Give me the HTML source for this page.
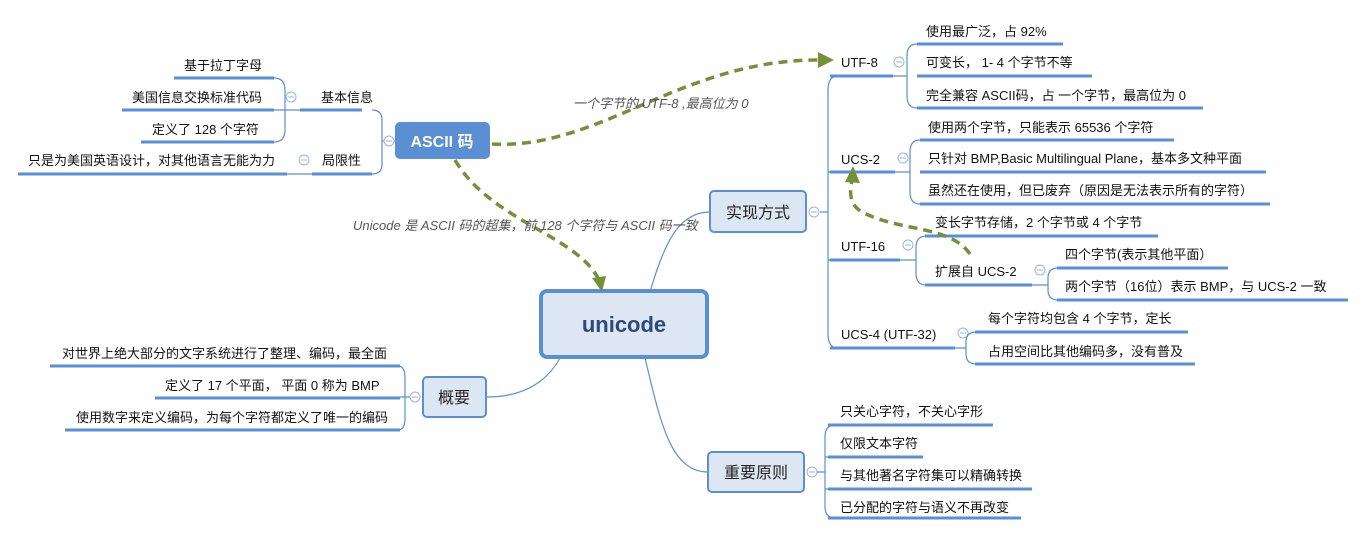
<!DOCTYPE html>
<html><head><meta charset="utf-8"><style>
html,body{margin:0;padding:0;background:#fff;}
svg{display:block;font-family:"Liberation Sans","Noto Sans CJK SC",sans-serif;}
.t{font-size:13px;fill:#111;}
.u{stroke:#5b8fd4;stroke-width:3;fill:none;}
.c{stroke:#5b8fd4;stroke-width:1.2;fill:none;}
.ci{stroke:#9db3dd;stroke-width:1;fill:#fff;}
.d{stroke:#76903a;stroke-width:3.5;fill:none;stroke-dasharray:9,6;}
.lab{font-size:13px;fill:#555;font-style:italic;}
</style></head><body>
<svg width="1362" height="538" viewBox="0 0 1362 538">
<defs>
<g id="cir"><circle r="5" class="ci"/><line x1="-3" y1="0" x2="3" y2="0" stroke="#9db3dd" stroke-width="1"/></g>
</defs>

<!-- connectors from unicode -->
<path class="c" d="M650,292 C665,240 680,212 710,212"/>
<path class="c" d="M560,358 C545,385 520,397 486,397"/>
<path class="c" d="M645,358 C660,420 670,472 708,472"/>

<!-- ASCII left side -->
<path class="c" d="M372,110 Q382,110 382,120 L382,164 Q382,174 372,174"/>
<line class="c" x1="382" y1="141" x2="395" y2="141"/>
<use href="#cir" x="389" y="141"/>
<line class="u" x1="300" y1="110" x2="362" y2="110"/>
<text class="t" x="321" y="102">基本信息</text>
<line class="u" x1="312" y1="174" x2="372" y2="174"/>
<text class="t" x="322" y="165">局限性</text>
<use href="#cir" x="291" y="97"/>
<use href="#cir" x="304" y="160"/>
<path class="c" d="M274,78 Q285,78 285,90 L285,130 Q285,142 274,142"/>
<line class="c" x1="274" y1="110" x2="300" y2="110"/>
<line class="u" x1="174" y1="78" x2="274" y2="78"/>
<text class="t" x="184" y="70">基于拉丁字母</text>
<line class="u" x1="122" y1="110" x2="274" y2="110"/>
<text class="t" x="132" y="102">美国信息交换标准代码</text>
<line class="u" x1="141" y1="142" x2="274" y2="142"/>
<text class="t" x="152" y="134">定义了 128 个字符</text>
<line class="u" x1="18" y1="174" x2="287" y2="174"/>
<line class="c" x1="287" y1="174" x2="312" y2="174"/>
<text class="t" x="28" y="165">只是为美国英语设计，对其他语言无能为力</text>

<!-- ASCII node -->
<rect x="395" y="122" width="95" height="37" rx="5" fill="#5b8fd4"/>
<text x="442" y="147" text-anchor="middle" font-size="16" font-weight="bold" fill="#fff">ASCII 码</text>

<!-- unicode node -->
<rect x="541" y="291" width="166" height="66" rx="6" fill="#dde6f3" stroke="#5b8fd4" stroke-width="4"/>
<text x="624" y="332" text-anchor="middle" font-size="22" font-weight="bold" fill="#2d4a7a">unicode</text>

<!-- 实现方式 -->
<rect x="710" y="191" width="96" height="41" rx="4" fill="#dde6f3" stroke="#5b8fd4" stroke-width="2"/>
<text x="758" y="218" text-anchor="middle" font-size="16" fill="#222">实现方式</text>
<use href="#cir" x="814" y="212"/>
<path class="c" d="M820,212 L828,212 M838,76 Q828,76 828,90 L828,334 Q828,348 838,348 M828,172 L838,172 M828,260 L838,260"/>

<line class="u" x1="830" y1="76" x2="893" y2="76"/>
<text class="t" x="841" y="67">UTF-8</text>
<use href="#cir" x="899" y="62"/>
<path class="c" d="M893,76 L907,76 M917,44 Q907,44 907,56 L907,96 Q907,108 917,108"/>
<line class="u" x1="917" y1="44" x2="1063" y2="44"/>
<text class="t" x="926" y="36">使用最广泛，占 92%</text>
<line class="u" x1="917" y1="76" x2="1092" y2="76"/>
<text class="t" x="926" y="67">可变长， 1- 4 个字节不等</text>
<line class="u" x1="917" y1="108" x2="1203" y2="108"/>
<text class="t" x="926" y="100">完全兼容 ASCII码，占 一个字节，最高位为 0</text>

<line class="u" x1="830" y1="172" x2="895" y2="172"/>
<text class="t" x="841" y="164">UCS-2</text>
<use href="#cir" x="903" y="158"/>
<path class="c" d="M895,172 L910,172 M920,140 Q910,140 910,152 L910,192 Q910,204 920,204"/>
<line class="u" x1="920" y1="140" x2="1174" y2="140"/>
<text class="t" x="928" y="132">使用两个字节，只能表示 65536 个字符</text>
<line class="u" x1="920" y1="172" x2="1266" y2="172"/>
<text class="t" x="928" y="163">只针对 BMP,Basic Multilingual Plane，基本多文种平面</text>
<line class="u" x1="920" y1="204" x2="1270" y2="204"/>
<text class="t" x="928" y="195">虽然还在使用，但已废弃（原因是无法表示所有的字符）</text>

<line class="u" x1="830" y1="260" x2="900" y2="260"/>
<text class="t" x="841" y="251">UTF-16</text>
<use href="#cir" x="908" y="245"/>
<path class="c" d="M900,260 L916,260 M926,236 Q916,236 916,248 L916,273 Q916,285 926,285"/>
<line class="u" x1="925" y1="236" x2="1158" y2="236"/>
<text class="t" x="935" y="227">变长字节存储，2 个字节或 4 个字节</text>
<line class="u" x1="925" y1="285" x2="1032" y2="285"/>
<text class="t" x="935" y="276">扩展自 UCS-2</text>
<use href="#cir" x="1040" y="270"/>
<path class="c" d="M1032,285 L1048,285 M1058,268 Q1048,268 1048,278 L1048,290 Q1048,300 1058,300"/>
<line class="u" x1="1057" y1="268" x2="1228" y2="268"/>
<text class="t" x="1065" y="259">四个字节(表示其他平面）</text>
<line class="u" x1="1057" y1="300" x2="1348" y2="300"/>
<text class="t" x="1065" y="291">两个字节（16位）表示 BMP，与 UCS-2 一致</text>

<line class="u" x1="830" y1="348" x2="955" y2="348"/>
<text class="t" x="841" y="339">UCS-4 (UTF-32)</text>
<use href="#cir" x="963" y="333"/>
<path class="c" d="M955,348 L966,348 M976,332 Q966,332 966,342 L966,354 Q966,364 976,364"/>
<line class="u" x1="975" y1="332" x2="1188" y2="332"/>
<text class="t" x="988" y="323">每个字符均包含 4 个字节，定长</text>
<line class="u" x1="975" y1="364" x2="1195" y2="364"/>
<text class="t" x="988" y="356">占用空间比其他编码多，没有普及</text>

<!-- 概要 -->
<rect x="423" y="377" width="63" height="40" rx="4" fill="#dde6f3" stroke="#5b8fd4" stroke-width="2"/>
<text x="454" y="403" text-anchor="middle" font-size="16" fill="#222">概要</text>
<use href="#cir" x="415" y="397"/>
<path class="c" d="M410,397 L400,397 M398,366 Q405,366 405,378 L405,418 Q405,430 398,430"/>
<line class="u" x1="50" y1="366" x2="400" y2="366"/>
<text class="t" x="62" y="358">对世界上绝大部分的文字系统进行了整理、编码，最全面</text>
<line class="u" x1="155" y1="398" x2="400" y2="398"/>
<text class="t" x="165" y="390">定义了 17 个平面， 平面 0 称为 BMP</text>
<line class="u" x1="65" y1="430" x2="400" y2="430"/>
<text class="t" x="76" y="422">使用数字来定义编码，为每个字符都定义了唯一的编码</text>

<!-- 重要原则 -->
<rect x="708" y="452" width="96" height="40" rx="4" fill="#dde6f3" stroke="#5b8fd4" stroke-width="2"/>
<text x="756" y="478" text-anchor="middle" font-size="16" fill="#222">重要原则</text>
<use href="#cir" x="812" y="472"/>
<path class="c" d="M817,472 L825,472 M835,425 Q825,425 825,437 L825,506 Q825,518 835,518 M825,457 L835,457 M825,489 L835,489"/>
<line class="u" x1="828" y1="425" x2="993" y2="425"/>
<text class="t" x="840" y="416">只关心字符，不关心字形</text>
<line class="u" x1="828" y1="457" x2="923" y2="457"/>
<text class="t" x="840" y="448">仅限文本字符</text>
<line class="u" x1="828" y1="489" x2="1032" y2="489"/>
<text class="t" x="840" y="480">与其他著名字符集可以精确转换</text>
<line class="u" x1="828" y1="518" x2="1021" y2="518"/>
<text class="t" x="840" y="512">已分配的字符与语义不再改变</text>

<!-- dashed arrows -->
<path class="d" d="M492,144 C600,150 680,60 818,60"/>
<polygon points="818,52 834,60 818,68" fill="#76903a"/>
<text class="lab" x="573" y="108">一个字节的 UTF-8 ,最高位为 0</text>

<path class="d" d="M455,160 C490,220 575,235 598,278"/>
<polygon points="592,278 606,276 602,292" fill="#76903a"/>
<text class="lab" x="353" y="230">Unicode 是 ASCII 码的超集，前 128 个字符与 ASCII 码一致</text>

<path class="d" d="M970,254 C950,225 900,232 862,212 C848,204 850,190 852,180"/>
<polygon points="845,182 853,166 860,183" fill="#76903a"/>
</svg>
</body></html>
